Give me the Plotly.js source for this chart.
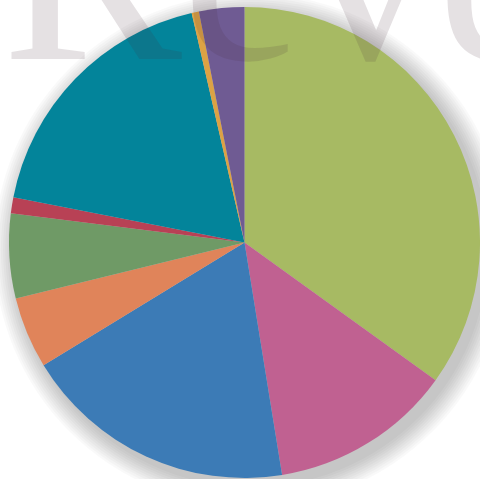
<!DOCTYPE html>
<html>
<head>
<meta charset="utf-8">
<script src="https://cdn.plot.ly/plotly-3.0.1.min.js"></script>
<style>html,body{margin:0;padding:0;background:#fff;}#chart{width:480px;height:479px;}</style>
</head>
<body>
<div id="chart"></div>
<script>
var labels = ["Segment 1", "Segment 2", "Segment 3", "Segment 4", "Segment 5", "Segment 6", "Segment 7", "Segment 8", "Segment 9"];
var values = [34.9, 12.5, 18.8, 4.9, 5.8, 1.1, 18.3, 0.5, 3.1];
var colors = ["#a7ba63", "#c06191", "#3c7bb6", "#e0845a", "#6f9a66", "#b84155", "#03849a", "#dca244", "#6f5b93"];
var watermark = "Revenue";

var W = 480, H = 479;
var cx = 245, cy = 242, r = 236;
var shapes = [];
for (var i = 0; i < 10; i++) {
  var rr = r + 1 + i * 2.2;
  var ox = cx + 6, oy = cy + 8;
  shapes.push({
    type: "circle", xref: "paper", yref: "paper", layer: "below",
    x0: (ox - rr) / W, x1: (ox + rr) / W,
    y0: 1 - (oy + rr) / H, y1: 1 - (oy - rr) / H,
    fillcolor: "rgba(0,0,0,0.025)", line: {width: 0}
  });
}

var trace = {
  type: "pie",
  labels: labels,
  values: values,
  marker: {colors: colors, line: {width: 0}},
  sort: false,
  direction: "clockwise",
  rotation: 0,
  textinfo: "none",
  hoverinfo: "label+percent",
  domain: {x: [(cx - r) / W, 1], y: [0, 1 - (cy - r) / H]}
};

var layout = {
  width: W, height: H,
  margin: {l: 0, r: 0, t: 0, b: 0},
  paper_bgcolor: "#ffffff",
  showlegend: false,
  shapes: shapes,
  annotations: [{
    text: watermark, xref: "paper", yref: "paper",
    x: 0, y: 1.068, xanchor: "left", yanchor: "middle",
    showarrow: false,
    font: {family: "Liberation Serif, serif", size: 270, color: "rgba(70,45,55,0.14)"}
  }]
};

Plotly.newPlot("chart", [trace], layout, {displayModeBar: false, staticPlot: true});
</script>
</body>
</html>
